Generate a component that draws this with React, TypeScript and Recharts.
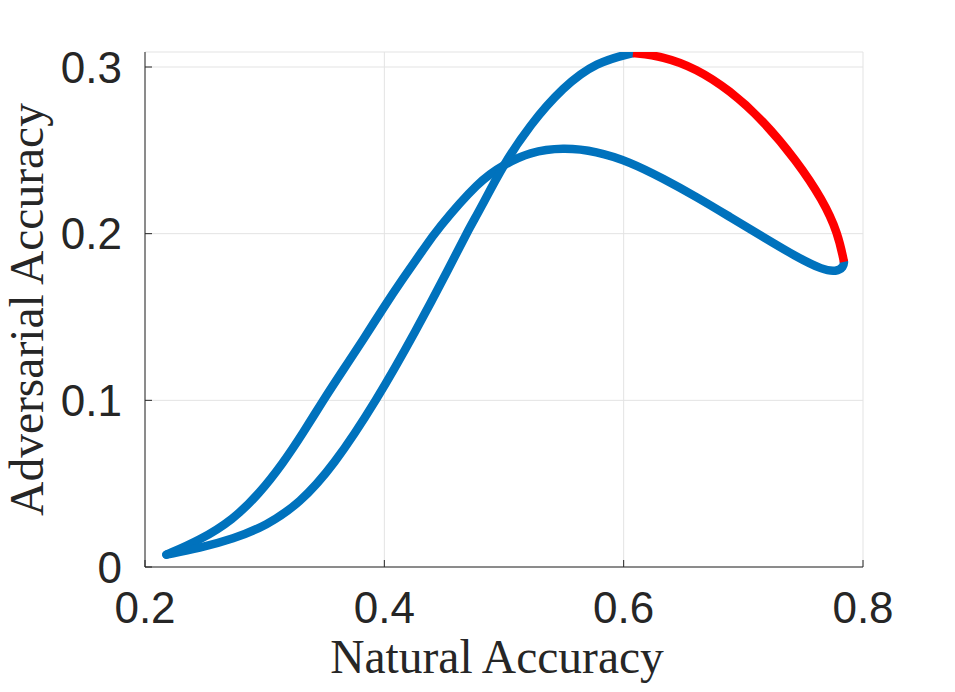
import React from "react";
import { LineChart, Line, XAxis, YAxis, CartesianGrid } from "recharts";

/* ── Data ────────────────────────────────────────────────────── */

const X_TICKS = [0.2, 0.4, 0.6, 0.8];
const Y_TICKS = [0, 0.1, 0.2, 0.3];

// blue branch that starts at the bottom-left tip, peaks near 0.25 and
// bends back at the right-hand end
const LOOP_X = [
  0.2179, 0.2457, 0.2735, 0.2958, 0.3153, 0.332, 0.3487, 0.3655, 0.3822,
  0.3989, 0.4156, 0.4323, 0.4435, 0.4797, 0.4992, 0.5215, 0.5493, 0.5772,
  0.605, 0.6329, 0.6608, 0.6886, 0.7164, 0.7443, 0.7666, 0.7777, 0.7839,
  0.7841,
];
const LOOP_Y = [
  0.0074, 0.016, 0.0283, 0.0443, 0.0623, 0.0803, 0.0998, 0.1182, 0.1362,
  0.1552, 0.1732, 0.1901, 0.2021, 0.2321, 0.2411, 0.249, 0.2517, 0.2495,
  0.2431, 0.2331, 0.2221, 0.2101, 0.1981, 0.1861, 0.1782, 0.1771, 0.1801,
  0.1831,
];

// blue branch from the bottom-left tip up to the highest point
const RISE_X = [
  0.2179, 0.2457, 0.2735, 0.3014, 0.3293, 0.3571, 0.3934, 0.4268, 0.4546,
  0.47, 0.4797, 0.4992, 0.5215, 0.5493, 0.5772, 0.6078,
];
const RISE_Y = [
  0.0074, 0.0114, 0.0168, 0.0248, 0.0383, 0.0603, 0.0998, 0.1422, 0.1801,
  0.2021, 0.2141, 0.2411, 0.2651, 0.288, 0.303, 0.3084,
];

// red arc from the peak down to the right-most point
const RED_X = [
  0.6078, 0.6329, 0.6608, 0.6886, 0.7164, 0.7443, 0.7666, 0.7791, 0.7841,
];
const RED_Y = [
  0.3084, 0.3064, 0.299, 0.286, 0.268, 0.244, 0.22, 0.2002, 0.1831,
];

/* ── Styles ───────────────────────────────────────────────────── */

const AXIS_COLOR = "#262626";
const BLUE = "#0072BD";
const RED = "#FF0000";
const LINE_W = 8.5;
const tickStyle = {
  fontFamily: "'Liberation Sans', Arial, Helvetica, sans-serif",
  fontSize: 44,
  fill: AXIS_COLOR,
};
const labelFont = "'Liberation Serif', 'Times New Roman', serif";

const toPoints = (xs: number[], ys: number[]) =>
  xs.map((x, i) => ({ x, y: ys[i] }));

const fmt = (v: number) => (v === 0 ? "0" : String(v));

const XLabel = ({ viewBox }: any) => (
  <text
    x={viewBox.x + viewBox.width / 2 - 7}
    y={viewBox.y + 106}
    textAnchor="middle"
    fontFamily={labelFont}
    fontSize={47.5}
    fill={AXIS_COLOR}
  >
    Natural Accuracy
  </text>
);

const YLabel = ({ viewBox }: any) => {
  const x = viewBox.x + 43;
  const y = viewBox.y + viewBox.height / 2;
  return (
    <text
      x={x}
      y={y}
      transform={`rotate(-90, ${x}, ${y})`}
      textAnchor="middle"
      fontFamily={labelFont}
      fontSize={47.5}
      fill={AXIS_COLOR}
    >
      Adversarial Accuracy
    </text>
  );
};

export default function App() {
  const loop = toPoints(LOOP_X, LOOP_Y);
  const rise = toPoints(RISE_X, RISE_Y);
  const red = toPoints(RED_X, RED_Y);

  return (
    <div style={{ position: "absolute", left: 0, top: 0, background: "#fff" }}>
      <LineChart
        width={955}
        height={692}
        margin={{ top: 52, right: 92, bottom: 0, left: 0 }}
      >
        <CartesianGrid stroke="#e3e3e3" strokeWidth={1} />
        <XAxis
          type="number"
          dataKey="x"
          domain={[0.2, 0.8]}
          ticks={X_TICKS}
          tickFormatter={fmt}
          allowDataOverflow
          height={125}
          tick={tickStyle}
          tickSize={-7}
          tickMargin={32}
          stroke={AXIS_COLOR}
          axisLine={{ stroke: AXIS_COLOR }}
          tickLine={{ stroke: AXIS_COLOR }}
          label={<XLabel />}
        />
        <YAxis
          type="number"
          dataKey="y"
          domain={[0, 0.309]}
          ticks={Y_TICKS}
          tickFormatter={fmt}
          allowDataOverflow
          width={145}
          tick={tickStyle}
          tickSize={-7}
          tickMargin={30}
          stroke={AXIS_COLOR}
          axisLine={{ stroke: AXIS_COLOR }}
          tickLine={{ stroke: AXIS_COLOR }}
          label={<YLabel />}
        />
        <Line
          data={loop}
          dataKey="y"
          type="basis"
          stroke={BLUE}
          strokeWidth={LINE_W}
          strokeLinecap="round"
          strokeLinejoin="round"
          dot={false}
          activeDot={false}
          isAnimationActive={false}
        />
        <Line
          data={rise}
          dataKey="y"
          type="basis"
          stroke={BLUE}
          strokeWidth={LINE_W}
          strokeLinecap="round"
          strokeLinejoin="round"
          dot={false}
          activeDot={false}
          isAnimationActive={false}
        />
        <Line
          data={red}
          dataKey="y"
          type="basis"
          stroke={RED}
          strokeWidth={LINE_W}
          strokeLinejoin="round"
          dot={false}
          activeDot={false}
          isAnimationActive={false}
        />
      </LineChart>
    </div>
  );
}
